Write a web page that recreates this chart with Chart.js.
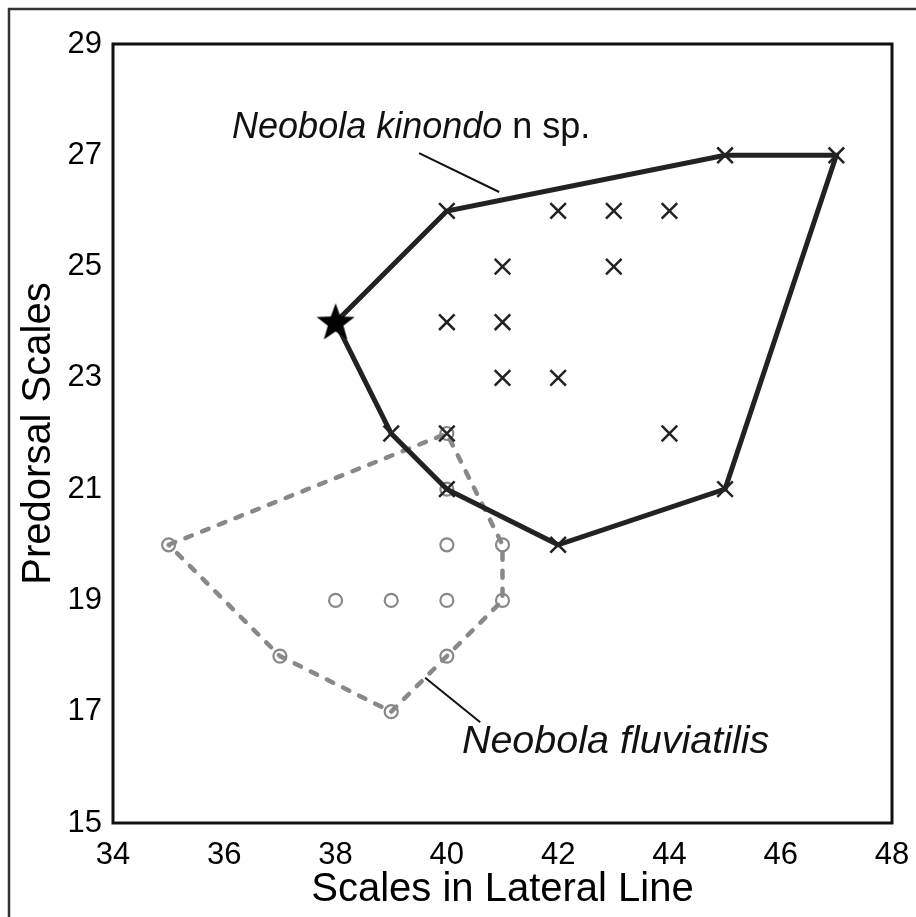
<!DOCTYPE html>
<html>
<head>
<meta charset="utf-8">
<script src="https://cdn.jsdelivr.net/npm/chart.js@4.4.0/dist/chart.umd.min.js"></script>
<style>
  body { margin: 0; background: #fff; }
  canvas { display: block; }
</style>
</head>
<body>
<canvas id="scaleChart" width="916" height="917"></canvas>
<script>
"use strict";
// ---- data ----
var xTicks = [34, 36, 38, 40, 42, 44, 46, 48];
var yTicks = [15, 17, 19, 21, 23, 25, 27, 29];

// Neobola kinondo n sp. (outline closed back on the holotype)
var kinondoHullX = [38, 40, 45, 47, 45, 42, 40, 39, 38];
var kinondoHullY = [24, 26, 27, 27, 21, 20, 21, 22, 24];
var kinondoX = [40, 45, 47, 45, 42, 40, 39, 42, 43, 44, 41, 43, 40, 41, 41, 42, 40, 44];
var kinondoY = [26, 27, 27, 21, 20, 21, 22, 26, 26, 26, 25, 25, 24, 24, 23, 23, 22, 22];
var holotypeX = [38];
var holotypeY = [24];

// Neobola fluviatilis
var fluvHullX = [35, 40, 41, 41, 40, 39, 37, 35];
var fluvHullY = [20, 22, 20, 19, 18, 17, 18, 20];
var fluvX = [35, 40, 41, 41, 40, 39, 37, 40, 40, 38, 39, 40];
var fluvY = [20, 22, 20, 19, 18, 17, 18, 21, 20, 19, 19, 19];

var darkLine = "#222222";
var greyLine = "#888888";
var fontFam = "'Liberation Sans', Arial, sans-serif";

function pts(xs, ys) {
    return xs.map(function (x, i) { return { x: x, y: ys[i] }; });
}

// filled star for the holotype
var starImg = document.createElement("canvas");
starImg.width = 42;
starImg.height = 42;
(function () {
    var c = starImg.getContext("2d");
    c.beginPath();
    for (var i = 0; i < 10; i++) {
        var r = i % 2 === 0 ? 20 : 8.2;
        var a = -Math.PI / 2 + i * Math.PI / 5;
        c.lineTo(21 + r * Math.cos(a), 22 + r * Math.sin(a));
    }
    c.closePath();
    c.fillStyle = "#000";
    c.fill();
})();

// frame, plot box and labels
var decorPlugin = {
    id: "decor",
    afterDraw: function (chart) {
        var ctx = chart.ctx;
        var a = chart.chartArea;
        var xs = chart.scales.x, ys = chart.scales.y;
        ctx.save();
        // outer frame (top and left visible)
        ctx.strokeStyle = "#333";
        ctx.lineWidth = 2.5;
        ctx.beginPath();
        ctx.moveTo(9, 917);
        ctx.lineTo(9, 9);
        ctx.lineTo(916, 9);
        ctx.stroke();
        // plot box
        ctx.strokeStyle = "#111";
        ctx.lineWidth = 3;
        ctx.strokeRect(a.left, a.top, a.right - a.left, a.bottom - a.top);

        // leader lines
        ctx.lineWidth = 2;
        ctx.strokeStyle = "#111";
        ctx.beginPath();
        ctx.moveTo(xs.getPixelForValue(39.5), ys.getPixelForValue(27.04));
        ctx.lineTo(xs.getPixelForValue(40.94), ys.getPixelForValue(26.34));
        ctx.moveTo(xs.getPixelForValue(39.61), ys.getPixelForValue(17.61));
        ctx.lineTo(xs.getPixelForValue(40.6), ys.getPixelForValue(16.81));
        ctx.stroke();

        // species labels
        ctx.fillStyle = "#111";
        ctx.textBaseline = "alphabetic";
        ctx.textAlign = "left";
        var kx = xs.getPixelForValue(36.14), ky = ys.getPixelForValue(27.31);
        ctx.font = "italic 36px " + fontFam;
        var part = "Neobola kinondo";
        ctx.fillText(part, kx, ky);
        var w = ctx.measureText(part).width;
        ctx.font = "36px " + fontFam;
        ctx.fillText(" n sp.", kx + w, ky);

        ctx.font = "italic 39.5px " + fontFam;
        ctx.fillText("Neobola fluviatilis", xs.getPixelForValue(40.27), ys.getPixelForValue(16.26));
        ctx.restore();
    }
};

var CHART = document.getElementById("scaleChart");
var scaleChart = new Chart(CHART, {
    type: "scatter",
    data: {
        datasets: [
            {
                label: "holotype",
                data: pts(holotypeX, holotypeY),
                pointStyle: starImg,
                pointRadius: 20,
                order: 0,
            },
            {
                label: "Neobola kinondo",
                data: pts(kinondoX, kinondoY),
                pointStyle: "crossRot",
                pointRadius: 11,
                pointBorderWidth: 2.5,
                pointBorderColor: darkLine,
                order: 1,
            },
            {
                label: "kinondo outline",
                data: pts(kinondoHullX, kinondoHullY),
                showLine: true,
                borderColor: darkLine,
                borderWidth: 5,
                borderJoinStyle: "miter",
                pointRadius: 0,
                order: 2,
            },
            {
                label: "fluviatilis outline",
                data: pts(fluvHullX, fluvHullY),
                showLine: true,
                borderColor: greyLine,
                borderWidth: 4.5,
                borderDash: [7, 11],
                borderCapStyle: "round",
                pointRadius: 0,
                order: 3,
            },
            {
                label: "Neobola fluviatilis",
                data: pts(fluvX, fluvY),
                pointStyle: "circle",
                pointRadius: 6.5,
                pointBorderWidth: 2.2,
                pointBorderColor: greyLine,
                pointBackgroundColor: "rgba(255,255,255,0)",
                order: 4,
            },
        ],
    },
    options: {
        responsive: false,
        animation: false,
        events: [],
        layout: { padding: { top: 44, right: 24, left: 0, bottom: 0 } },
        plugins: {
            legend: { display: false },
            tooltip: { enabled: false },
        },
        scales: {
            x: {
                type: "linear",
                min: xTicks[0],
                max: xTicks[xTicks.length - 1],
                afterBuildTicks: function (s) { s.ticks = xTicks.map(function (v) { return { value: v }; }); },
                afterFit: function (s) { s.height = 94; s.paddingLeft = 0; s.paddingRight = 0; },
                grid: { display: false, drawTicks: false },
                border: { display: false },
                ticks: { color: "#000", padding: 14, maxRotation: 0, font: { family: fontFam, size: 31 } },
                title: {
                    display: true,
                    text: "Scales in Lateral Line",
                    color: "#000",
                    font: { family: fontFam, size: 40 },
                    padding: { top: 0, bottom: 3 },
                },
            },
            y: {
                type: "linear",
                min: yTicks[0],
                max: yTicks[yTicks.length - 1],
                afterBuildTicks: function (s) { s.ticks = yTicks.map(function (v) { return { value: v }; }); },
                afterFit: function (s) { s.width = 113; s.paddingTop = 0; s.paddingBottom = 0; },
                grid: { display: false, drawTicks: false },
                border: { display: false },
                ticks: { color: "#000", padding: 11, font: { family: fontFam, size: 31 } },
                title: {
                    display: true,
                    text: "Predorsal Scales",
                    color: "#000",
                    font: { family: fontFam, size: 40 },
                    padding: { top: 15, bottom: 0 },
                },
            },
        },
    },
    plugins: [decorPlugin],
});
</script>
</body>
</html>
